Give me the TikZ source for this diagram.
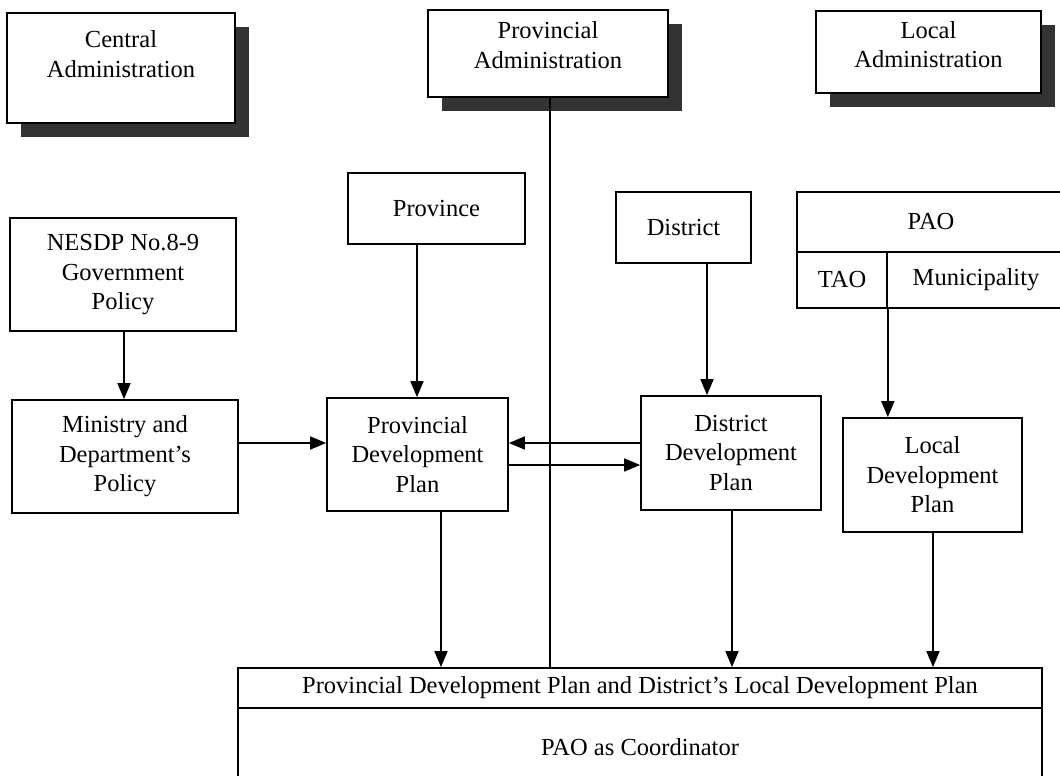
\documentclass[tikz,border=0pt]{standalone}
\usepackage{fontspec}
\setmainfont{Liberation Serif}
\usetikzlibrary{arrows.meta,shadows}
\begin{document}
\begin{tikzpicture}[x=1pt,y=-1pt,
  box/.style={draw, line width=1.7pt, align=center, inner sep=0pt, fill=white,
    font=\fontsize{24.5}{29.5}\selectfont},
  sbox/.style={box, drop shadow={shadow xshift=14pt, shadow yshift=-14pt, fill=black!80, opacity=1}},
  cell/.style={box},
  arr/.style={line width=1.7pt, -{Triangle[length=16pt,width=13pt]}},
  ln/.style={line width=1.7pt}]
\useasboundingbox (0,0) rectangle (1060,776);
\fill[white] (0,0) rectangle (1060,776);
% administration headers
\node[sbox, minimum width=228pt, minimum height=110pt] (central) at (121,68) {Central\\Administration\rule[-28pt]{0pt}{28pt}};
\node[sbox, minimum width=240pt, minimum height=87pt] (provadm) at (548,53.5) {Provincial\\Administration\rule[-17pt]{0pt}{17pt}};
\node[sbox, minimum width=225pt, minimum height=82pt] (localadm) at (928.5,52) {Local\\Administration\rule[-15pt]{0pt}{15pt}};
% left column
\node[box, minimum width=226pt, minimum height=113pt] (nesdp) at (123,274.5) {NESDP No.8-9\\Government\\Policy};
\node[box, minimum width=226pt, minimum height=113pt] (ministry) at (125,456.5) {Ministry and\\Department's\\Policy};
% province
\node[box, minimum width=177pt, minimum height=71pt] (province) at (436.5,208.5) {Province};
\node[box, minimum width=181pt, minimum height=113pt] (provdev) at (417.5,454.5) {Provincial\\Development\\Plan};
% district
\node[box, minimum width=135pt, minimum height=71pt] (district) at (683.5,227.5) {District};
\node[box, minimum width=180pt, minimum height=114pt] (distdev) at (731,453) {District\\Development\\Plan};
% local
\node[cell, minimum width=268pt, minimum height=60pt] (pao) at (931,222) {PAO};
\node[cell, minimum width=90pt, minimum height=56pt] (tao) at (842,280) {TAO};
\node[cell, minimum width=178pt, minimum height=56pt] (muni) at (976,280) {Municipality};
\node[box, minimum width=179pt, minimum height=114pt] (localdev) at (932.5,475) {Local\\Development\\Plan};
% bottom
\node[cell, minimum width=804pt, minimum height=40pt] (plans) at (640,688) {Provincial Development Plan and District's Local Development Plan};
\node[cell, minimum width=804pt, minimum height=78pt] (coord) at (640,747) {PAO as Coordinator};
% connectors
\draw[ln] (provadm.south -| 550,0) -- (plans.north -| 550,0);
\draw[arr] (nesdp.south -| 124,0) -- (ministry.north -| 124,0);
\draw[arr] (ministry.east |- 0,443) -- (provdev.west |- 0,443);
\draw[arr] (distdev.west |- 0,443) -- (provdev.east |- 0,443);
\draw[arr] (provdev.east |- 0,465) -- (distdev.west |- 0,465);
\draw[arr] (province.south -| 417,0) -- (provdev.north -| 417,0);
\draw[arr] (district.south -| 707,0) -- (distdev.north -| 707,0);
\draw[arr] (tao.south east) -- (localdev.north -| tao.south east);
\draw[arr] (provdev.south -| 441,0) -- (plans.north -| 441,0);
\draw[arr] (distdev.south -| 732,0) -- (plans.north -| 732,0);
\draw[arr] (localdev.south -| 933,0) -- (plans.north -| 933,0);
\end{tikzpicture}
\end{document}
